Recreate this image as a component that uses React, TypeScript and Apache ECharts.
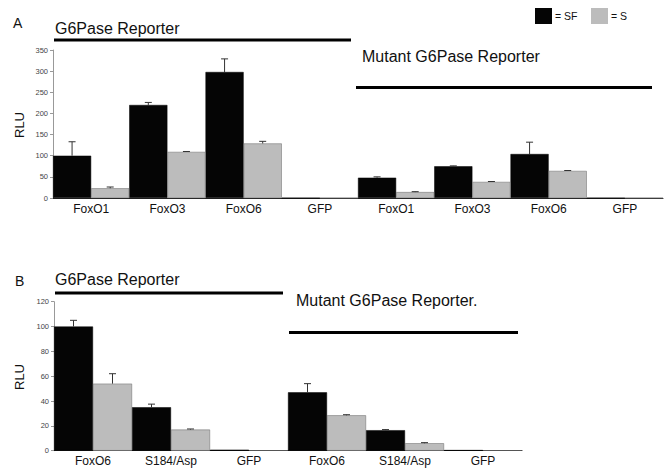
import React, { useEffect, useRef } from "react";
import * as echarts from "echarts";

// Panel A data
const categoriesA = ["FoxO1", "FoxO3", "FoxO6", "GFP", "FoxO1", "FoxO3", "FoxO6", "GFP"];
const sfA = [100, 220, 298, 0, 48, 75, 104, 0];
const sfErrA = [33, 6, 31, 0, 2, 1, 28, 0];
const sA = [23, 109, 129, 0, 14, 38, 64, 0];
const sErrA = [3, 1, 5, 0, 1, 1, 1, 0];
const ticksA = { min: 0, max: 350, interval: 50 };

// Panel B data
const categoriesB = ["FoxO6", "S184/Asp", "GFP", "FoxO6", "S184/Asp", "GFP"];
const sfB = [100, 35, 0.8, 47, 16.5, 0.5];
const sfErrB = [5, 2.5, 0, 7, 0.5, 0];
const sB = [54, 17, 0.3, 28.5, 6, 0.3];
const sErrB = [8, 0.5, 0, 0.5, 0.5, 0];
const ticksB = { min: 0, max: 120, interval: 20 };

const FONT = "'Liberation Sans', Arial, Helvetica, sans-serif";
const SF_COLOR = "#050505";
const S_COLOR = "#bcbcbc";

function errSeries(vals: number[], errs: number[], side: number, axisIdx: number) {
  const data = vals.map((v, i) => [i, v, errs[i]]);
  return {
    type: "custom",
    xAxisIndex: axisIdx,
    yAxisIndex: axisIdx,
    z: 10,
    silent: true,
    data: data.filter((d) => d[2] > 0),
    renderItem: (params: any, api: any) => {
      const idx = api.value(0);
      const v = api.value(1);
      const e = api.value(2);
      const band = api.size([1, 0])[0];
      const base = api.coord([idx, v]);
      const top = api.coord([idx, v + e]);
      const x = base[0] + side * band / 4;
      const style = { stroke: "#333", lineWidth: 1, fill: "none" };
      return {
        type: "group",
        children: [
          { type: "line", shape: { x1: x, y1: base[1], x2: x, y2: top[1] }, style },
          { type: "line", shape: { x1: x - 3.5, y1: top[1], x2: x + 3.5, y2: top[1] }, style },
        ],
      };
    },
  };
}

function xAxis(cats: string[], idx: number, margin: number) {
  return {
    type: "category",
    gridIndex: idx,
    data: cats,
    axisTick: { show: false },
    axisLine: { lineStyle: { color: "#222", width: 1 } },
    axisLabel: { interval: 0, color: "#111", fontSize: 12, fontFamily: FONT, margin },
  };
}

function yAxis(t: { min: number; max: number; interval: number }, idx: number) {
  return {
    type: "value",
    gridIndex: idx,
    min: t.min,
    max: t.max,
    interval: t.interval,
    splitLine: { show: false },
    axisLine: { show: true, lineStyle: { color: "#999", width: 1 } },
    axisTick: { show: true, length: 3, lineStyle: { color: "#999" } },
    axisLabel: { color: "#444", fontSize: 7.5, fontFamily: FONT, margin: 5 },
  };
}

function text(x: number, y: number, t: string, size: number, extra: any = {}) {
  return {
    type: "text",
    x,
    y,
    style: { text: t, font: `${size}px ${FONT}`, fill: "#111", textVerticalAlign: "middle", ...extra },
  };
}

function hline(x1: number, x2: number, y: number) {
  return {
    type: "line",
    shape: { x1, y1: y, x2, y2: y },
    style: { stroke: "#000", lineWidth: 3 },
  };
}

export default function App() {
  const ref = useRef<HTMLDivElement>(null);
  useEffect(() => {
    if (!ref.current) return;
    const chart = echarts.init(ref.current, null, { renderer: "svg" });
    const barCommon = { type: "bar", barGap: "0%", barCategoryGap: "0%" };
    chart.setOption({
      animation: false,
      backgroundColor: "#fff",
      grid: [
        { left: 53, top: 50, width: 610, height: 148 },
        { left: 54, top: 301.7, width: 468, height: 149 },
      ],
      xAxis: [xAxis(categoriesA, 0, 5), xAxis(categoriesB, 1, 4)],
      yAxis: [yAxis(ticksA, 0), yAxis(ticksB, 1)],
      series: [
        { ...barCommon, name: "SF", xAxisIndex: 0, yAxisIndex: 0, data: sfA, itemStyle: { color: SF_COLOR, borderColor: "#000", borderWidth: 0.5 } },
        { ...barCommon, name: "S", xAxisIndex: 0, yAxisIndex: 0, data: sA, itemStyle: { color: S_COLOR, borderColor: "#666", borderWidth: 0.5 } },
        { ...barCommon, name: "SF", xAxisIndex: 1, yAxisIndex: 1, data: sfB, itemStyle: { color: SF_COLOR, borderColor: "#000", borderWidth: 0.5 } },
        { ...barCommon, name: "S", xAxisIndex: 1, yAxisIndex: 1, data: sB, itemStyle: { color: S_COLOR, borderColor: "#666", borderWidth: 0.5 } },
        errSeries(sfA, sfErrA, -1, 0),
        errSeries(sA, sErrA, 1, 0),
        errSeries(sfB, sfErrB, -1, 1),
        errSeries(sB, sErrB, 1, 1),
      ],
      graphic: [
        // Panel A
        text(13, 23, "A", 14),
        text(55, 28.5, "G6Pase Reporter", 16),
        hline(54, 351, 40),
        text(362, 56.5, "Mutant G6Pase Reporter", 16),
        hline(356, 652, 87.5),
        text(19, 125, "RLU", 13, { textAlign: "center" }),
        // Legend
        { type: "rect", shape: { x: 535, y: 8, width: 17, height: 16 }, style: { fill: SF_COLOR } },
        text(555, 15.5, "= SF", 10.5),
        { type: "rect", shape: { x: 591, y: 8, width: 17, height: 16 }, style: { fill: S_COLOR } },
        text(611, 15.5, "= S", 10.5),
        // Panel B
        text(15, 280.5, "B", 14),
        text(55, 279.5, "G6Pase Reporter", 16),
        hline(55, 283, 293),
        text(296, 300, "Mutant G6Pase Reporter.", 16),
        hline(289, 518, 332.5),
        text(19, 377, "RLU", 13, { textAlign: "center" }),
      ].map((g: any) =>
        g.style && g.style.text === "RLU" ? { ...g, rotation: Math.PI / 2 } : g
      ),
    });
    return () => chart.dispose();
  }, []);
  return (
    <div
      ref={ref}
      style={{ position: "fixed", left: 0, top: 0, width: 669, height: 468 }}
    />
  );
}
